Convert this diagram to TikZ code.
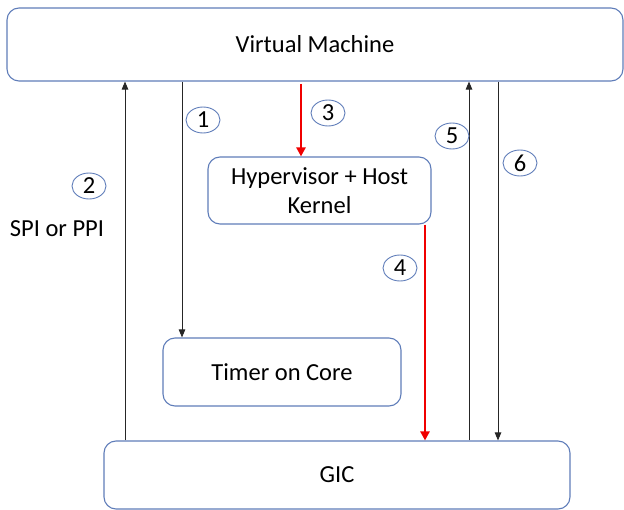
\documentclass[tikz,border=0pt]{standalone}
\usepackage{fontspec}
\setmainfont{Carlito}
\usetikzlibrary{arrows.meta,shapes.geometric}
\definecolor{boxblue}{RGB}{95,125,185}
\definecolor{arrred}{RGB}{240,0,0}
\begin{document}
\begin{tikzpicture}[x=1pt,y=-1pt,
  font=\fontsize{24.5}{29}\selectfont,
  box/.style={draw=boxblue,line width=1.1pt,rounded corners=12pt,align=center,inner sep=0pt},
  num/.style={draw=boxblue,line width=0.9pt,ellipse,minimum width=34pt,minimum height=26pt,inner sep=0pt},
  blk/.style={draw=black!85,line width=0.9pt,-{Triangle[length=8pt,width=6.5pt]}},
  redarr/.style={draw=arrred,line width=2.6pt,-{Triangle[length=9pt,width=9pt]}}]
\useasboundingbox (0,0) rectangle (624,510);
\node[box,minimum width=616pt,minimum height=73pt] (vm) at (315,44.5) {Virtual Machine};
\node[box,minimum width=223pt,minimum height=67pt] (hyp) at (319.5,190.5) {Hypervisor + Host\\Kernel};
\node[box,minimum width=238pt,minimum height=68pt] (timer) at (282,372) {Timer on Core};
\node[box,minimum width=466pt,minimum height=68pt] (gic) at (337,475) {GIC};
\coordinate (c2) at (125,0);
\coordinate (c1) at (182,0);
\coordinate (c3) at (301,84);
\coordinate (c4) at (425,0);
\coordinate (c5) at (469,0);
\coordinate (c6) at (498,0);
\draw[blk] (gic.north -| c2) -- (vm.south -| c2);
\draw[blk] (vm.south -| c1) -- (timer.north -| c1);
\draw[redarr] (c3) -- (hyp.north -| c3);
\draw[redarr] (hyp.south -| c4) -- (gic.north -| c4);
\draw[blk] (gic.north -| c5) -- (vm.south -| c5);
\draw[blk] (vm.south -| c6) -- (gic.north -| c6);
\node[num] (n1) at (203,120) {1};
\node[num] (n2) at (89,186) {2};
\node[num] (n3) at (328,113) {3};
\node[num] (n4) at (400,268) {4};
\node[num] (n5) at (452,136) {5};
\node[num] (n6) at (520,163) {6};
\node[inner sep=0pt] (spi) at (57,229) {SPI or PPI};
\end{tikzpicture}
\end{document}
